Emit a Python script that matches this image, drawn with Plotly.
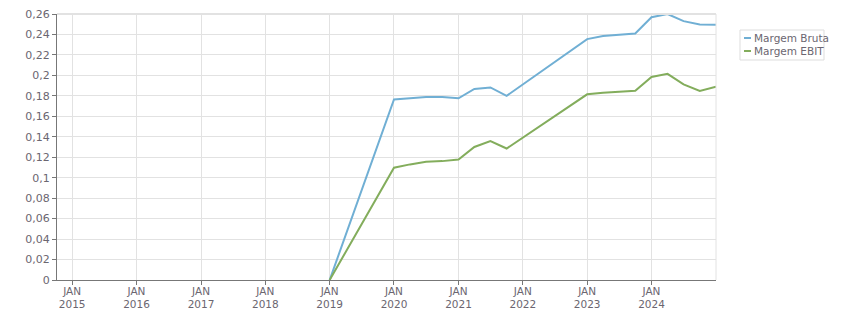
import plotly.graph_objects as go

dates = ["2019-01-01", "2020-01-01", "2020-04-01", "2020-07-01", "2020-10-01",
         "2021-01-01", "2021-04-01", "2021-07-01", "2021-10-01",
         "2023-01-01", "2023-04-01", "2023-07-01", "2023-10-01",
         "2024-01-01", "2024-04-01", "2024-07-01", "2024-10-01", "2025-01-01"]
margem_bruta = [0.0, 0.1765, 0.1776, 0.1789, 0.1789,
                0.1776, 0.1868, 0.1882, 0.1800,
                0.2355, 0.2385, 0.2398, 0.2410,
                0.2568, 0.2600, 0.2530, 0.2497, 0.2495]
margem_ebit = [0.0, 0.1098, 0.1130, 0.1155, 0.1162,
               0.1178, 0.1300, 0.1357, 0.1285,
               0.1815, 0.1830, 0.1840, 0.1850,
               0.1985, 0.2015, 0.1912, 0.1848, 0.1890]

series_names = ["Margem Bruta", "Margem EBIT"]
series_colors = ["#70afd4", "#83ad5c"]

y_ticks = [0, 0.02, 0.04, 0.06, 0.08, 0.1, 0.12, 0.14, 0.16, 0.18, 0.2, 0.22, 0.24, 0.26]
y_labels = ["0", "0,02", "0,04", "0,06", "0,08", "0,1", "0,12", "0,14", "0,16",
            "0,18", "0,2", "0,22", "0,24", "0,26"]
x_ticks = ["2015-01-01", "2016-01-01", "2017-01-01", "2018-01-01", "2019-01-01",
           "2020-01-01", "2021-01-01", "2022-01-01", "2023-01-01", "2024-01-01"]
x_labels = ["JAN<br>2015", "JAN<br>2016", "JAN<br>2017", "JAN<br>2018", "JAN<br>2019",
            "JAN<br>2020", "JAN<br>2021", "JAN<br>2022", "JAN<br>2023", "JAN<br>2024"]

W, H = 851, 313
ML, MR, MT, MB = 57, 135, 14, 33
PW, PH = W - ML - MR, H - MT - MB

fig = go.Figure()
for name, vals, col in zip(series_names, [margem_bruta, margem_ebit], series_colors):
    fig.add_trace(go.Scatter(x=dates, y=vals, mode="lines", name=name,
                             line=dict(color=col, width=2), showlegend=False))

font = dict(family="DejaVu Sans", size=11, color="#6b6670")
xfont = dict(family="DejaVu Sans", size=10.5, color="#6b6670")

def px_x(p):
    return (p - ML) / PW

def px_y(p):
    return (H - MB - p) / PH

shapes = [
    dict(type="line", xref="paper", yref="paper", x0=0, x1=1, y0=1, y1=1,
         line=dict(color="#e2e2e2", width=2)),
    dict(type="line", xref="paper", yref="paper", x0=1, x1=1, y0=0, y1=1,
         line=dict(color="#e2e2e2", width=1)),
    # legend box
    dict(type="rect", xref="paper", yref="paper",
         x0=px_x(740), x1=px_x(824), y0=px_y(60), y1=px_y(30),
         line=dict(color="#dddddd", width=1), fillcolor="white"),
]
annotations = []
for i, (name, col) in enumerate(zip(series_names, series_colors)):
    yc = 38 + i * 13
    shapes.append(dict(type="line", xref="paper", yref="paper",
                       x0=px_x(744), x1=px_x(751), y0=px_y(yc), y1=px_y(yc),
                       line=dict(color=col, width=2)))
    annotations.append(dict(xref="paper", yref="paper", x=px_x(752), y=px_y(yc),
                            xanchor="left", yanchor="middle", showarrow=False,
                            text=name, font=dict(family="DejaVu Sans", size=10.5,
                                                 color="#6b6670")))

fig.update_layout(
    width=W, height=H,
    margin=dict(l=ML, r=MR, t=MT, b=MB, autoexpand=False),
    paper_bgcolor="white", plot_bgcolor="white",
    font=font,
    showlegend=False,
    xaxis=dict(type="date", range=["2014-10-07", "2025-01-01"],
               tickvals=x_ticks, ticktext=x_labels, automargin=False,
               showgrid=True, gridcolor="#e2e2e2", gridwidth=1,
               showline=True, linecolor="#777777", linewidth=1,
               ticks="outside", ticklen=4, tickcolor="#777777",
               ticklabelstandoff=-3,
               zeroline=False, tickfont=xfont),
    yaxis=dict(range=[0, 0.26], tickvals=y_ticks, ticktext=y_labels, automargin=False,
               showgrid=True, gridcolor="#e2e2e2", gridwidth=1,
               showline=True, linecolor="#777777", linewidth=1,
               ticks="outside", ticklen=4, tickcolor="#777777",
               zeroline=False, tickfont=font),
    shapes=shapes,
    annotations=annotations,
)

fig.write_html("out.html")
